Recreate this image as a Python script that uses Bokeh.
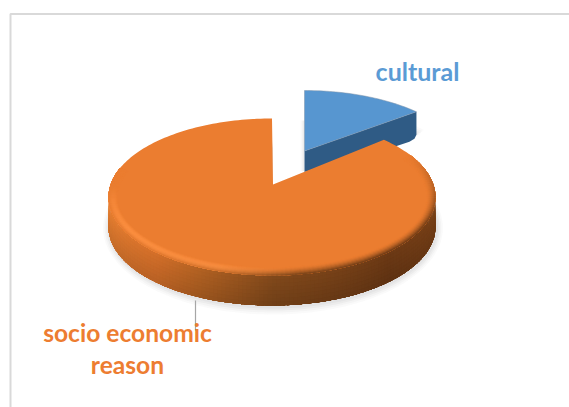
import numpy as np
from bokeh.core.properties import value
from bokeh.embed import file_html
from bokeh.models import Range1d
from bokeh.plotting import figure
from bokeh.resources import INLINE

# Share of each reason, in percent
categories = ["cultural", "socio economic reason"]
shares = [12, 88]
label_lines = ["cultural", "socio economic\nreason"]

W, H = 569, 407
RX, RY, DEPTH = 163.5, 78.5, 30
BLUE = np.array([91, 155, 213])
ORANGE = np.array([235, 125, 48])

p = figure(width=W, height=H, output_backend="svg", toolbar_location=None,
           x_range=Range1d(0, W), y_range=Range1d(H, 0), min_border=0,
           outline_line_color=None, background_fill_color="white",
           border_fill_color="white")
p.axis.visible = False
p.grid.visible = False


def hexc(c):
    c = np.clip(np.round(c), 0, 255).astype(int)
    return "#%02x%02x%02x" % tuple(c)


def ell(cx, cy, phi, sx=1.0, sy=1.0):
    """Point on a tilted pie rim; phi runs clockwise from twelve o'clock."""
    return cx + sx * RX * np.sin(phi), cy - sy * RY * np.cos(phi)


def mix(a, b, t):
    return np.asarray(a) * (1 - t) + np.asarray(b) * t


def stops(x, xs, cols):
    return np.array([np.interp(x, xs, [c[i] for c in cols]) for i in range(3)])


edges = np.cumsum([0] + shares) / sum(shares) * 2 * np.pi
blue_a, blue_b = edges[0], edges[1]
or_a, or_b = edges[1], edges[2]

# Placement of the two exploded slices
bc = (304.0, 168.5)
ba = (304.0, 150.5)
oc = (271.5, 196.5)
oa = (272.5, 184.0)

# Frame
p.line([10, 10, W], [H, 13.5, 13.5], line_color="#d9d9d9", line_width=2)

# Soft drop shadow below both slices
t_o = np.linspace(or_a, or_b, 200)
t_b = np.linspace(blue_a, blue_b, 40)
for grow, alpha in [(8, .045), (6, .055), (4, .07), (2, .08)]:
    p.patch(np.r_[oa[0], oc[0] + 1 + (RX + grow * .8) * np.sin(t_o)],
            np.r_[oa[1] + DEPTH, oc[1] + DEPTH + 1 - (RY + grow) * np.cos(t_o)],
            fill_color="#8a8a94", fill_alpha=alpha, line_color=None)
    p.patch(np.r_[ba[0], bc[0] + 2 + (RX + grow) * np.sin(t_b[8:]), bc[0] + 2],
            np.r_[ba[1] + DEPTH, bc[1] + DEPTH - 6 - (RY + grow) * np.cos(t_b[8:]), ba[1] + DEPTH],
            fill_color="#8a8a94", fill_alpha=alpha, line_color=None)
    p.patch([bc[0] - grow / 2, bc[0], bc[0], bc[0] - grow / 2],
            [bc[1] - RY + 30, bc[1] - RY + 30, ba[1] + 20, ba[1] + 20],
            fill_color="#8a8a94", fill_alpha=alpha * .8, line_color=None)

# Blue slice: cut side, rim side, then top face
rx_, ry_ = ell(bc[0], bc[1], t_b)
tip_x, tip_y = rx_[-1], ry_[-1]
p.patch([ba[0], tip_x, tip_x, tip_x - 2, tip_x - 7, tip_x - 22, ba[0]],
        [ba[1], tip_y, tip_y + 23, tip_y + 27, tip_y + 30, tip_y + 35, ba[1] + 21],
        fill_color="#2f5b85", line_color=None)
p.patch(np.r_[ba[0], rx_], np.r_[ba[1], ry_], fill_color=hexc(mix(BLUE, [50, 100, 160], .1)),
        line_color="#7f93a8", line_width=.5)

# Orange side wall, shaded along the rim and darker towards its foot
rim_pos = [np.pi * .5, np.pi * .75, np.pi, 3.6, 3.93, np.pi * 1.5]
rim_side = [[122, 66, 24], [104, 55, 20], [124, 70, 26], [172, 94, 33], [204, 107, 40], [226, 126, 50]]
N = 120
phis = np.linspace(np.pi / 2, 1.5 * np.pi, N + 1)
xs_all, ys_all, cols = [], [], []
LAYERS = 8
for j in range(LAYERS):
    f = (j + .5) / LAYERS
    d0 = DEPTH * j / LAYERS
    for k in range(N):
        a, b = phis[k], min(phis[k + 1] + .012, phis[-1])
        xa, ya = ell(oc[0], oc[1], a)
        xb, yb = ell(oc[0], oc[1], b)
        c = stops((a + b) / 2, rim_pos, rim_side) * (1.04 - .14 * f)
        xs_all.append([xa, xb, xb, xa])
        ys_all.append([ya + d0, yb + d0, yb + DEPTH, ya + DEPTH])
        cols.append(hexc(c))
p.patches(xs_all, ys_all, fill_color=cols, line_color=None)

# Orange top face
t = np.linspace(or_a, or_b, 240)
fx, fy = ell(oc[0], oc[1], t)
p.patch(np.r_[oa[0], fx], np.r_[oa[1], fy], fill_color=hexc(ORANGE), line_color=None)

# Rounded rim where the top face turns into the wall
N = 140
start, stop = or_a + .25, np.pi * 1.62
phis = np.linspace(start, stop, N + 1)
xs_all, ys_all, cols = [], [], []
BANDS = 9
for j in range(BANDS):
    g = j / BANDS
    sx0, sy0 = 0.945 + .055 * g, 0.895 + .105 * g
    f = (j + .5) / BANDS
    for k in range(N):
        a, b = phis[k], min(phis[k + 1] + .012, stop)
        m = (a + b) / 2
        wall = stops(np.clip(m, np.pi / 2, np.pi * 1.5), rim_pos, rim_side)
        # the rim fades out towards the far side of the pie
        fade = np.clip(min((m - start) / .9, (stop - m) / .8), 0, 1)
        glow = np.clip((m - np.pi * .95) / .5, 0, 1) * np.clip((np.pi * 1.55 - m) / .2, 0, 1)
        c = mix(ORANGE, wall, fade * f ** 1.6 * (1 - .6 * glow))
        c = c + np.array([18, 18, 16]) * glow * np.sin(np.pi * f) * fade
        x0, y0 = ell(oc[0], oc[1], a, sx0, sy0)
        x1, y1 = ell(oc[0], oc[1], b, sx0, sy0)
        x2, y2 = ell(oc[0], oc[1], b)
        x3, y3 = ell(oc[0], oc[1], a)
        xs_all.append([x0, x1, x2, x3])
        ys_all.append([y0, y1, y2, y3])
        cols.append(hexc(c))
p.patches(xs_all, ys_all, fill_color=cols, line_color=None)

# Leader line for the large slice, then the labels
p.segment([195], [300], [195], [330], line_color="#a6a6a6", line_width=1.2)
p.text([417], [70], text=[label_lines[0]], text_font=value("Lato"), text_font_style="bold",
       text_font_size="25px", text_color="#5b9bd5", text_align="center", text_baseline="middle")
p.text([127], [348], text=[label_lines[1]], text_font=value("Lato"), text_font_style="bold",
       text_font_size="24.6px", text_color="#ed7d31", text_align="center", text_baseline="middle",
       text_line_height=1.1)

open("out.html", "w").write(file_html(p, INLINE))
